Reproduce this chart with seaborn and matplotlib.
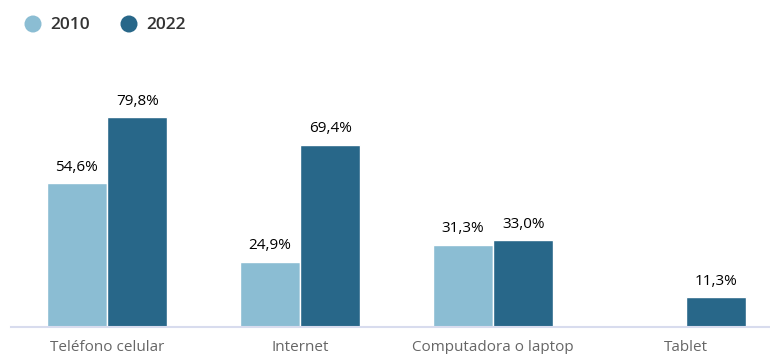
import matplotlib
matplotlib.use("Agg")
import matplotlib.pyplot as plt
import seaborn as sns
import pandas as pd
import numpy as np

categories = ["Teléfono celular", "Internet", "Computadora o laptop", "Tablet"]
years = ["2010", "2022"]
values_2010 = [54.6, 24.9, 31.3, np.nan]
values_2022 = [79.8, 69.4, 33.0, 11.3]
colors = ["#8bbdd3", "#286789"]

df = pd.DataFrame({
    "Categoria": categories * 2,
    "Año": [years[0]] * 4 + [years[1]] * 4,
    "Valor": values_2010 + values_2022,
})

sns.set_theme(style="white")
plt.rcParams["font.family"] = ["Open Sans", "DejaVu Sans"]

fig = plt.figure(figsize=(7.7, 3.54), dpi=100)
ax = fig.add_axes([10.5 / 770, 0.076, 772 / 770, 0.743])

sns.barplot(data=df, x="Categoria", y="Valor", hue="Año", order=categories,
            hue_order=years, palette=colors, width=0.63, gap=0.015,
            saturation=1, ax=ax, legend=False)

for cont in ax.containers:
    ax.bar_label(cont, fmt=lambda v: f"{v:.1f}%".replace(".", ","),
                 padding=6, fontsize=11, color="#000000", fontweight="medium")

ax.set_ylim(0, 100)
ax.set_xlim(-0.5, 3.5)
ax.set_xlabel("")
ax.set_ylabel("")
ax.set_yticks([])
ax.tick_params(axis="x", length=0, pad=9, labelsize=11, labelcolor="#666666")
for s in ["top", "right", "left"]:
    ax.spines[s].set_visible(False)
ax.spines["bottom"].set_color("#d8dcee")
ax.spines["bottom"].set_linewidth(1.5)

# legend
leg_ax = fig.add_axes([0, 0, 1, 1], facecolor="none")
leg_ax.set_xlim(0, 770)
leg_ax.set_ylim(354, 0)
leg_ax.axis("off")
for xpos, lab, col in [(33, "2010", colors[0]), (129, "2022", colors[1])]:
    leg_ax.scatter([xpos], [24], s=150, color=col, edgecolor="none")
    leg_ax.text(xpos + 17, 25, lab, fontsize=12.5, color="#333333",
                va="center", fontweight="semibold")

fig.savefig("out.png", dpi=100)
